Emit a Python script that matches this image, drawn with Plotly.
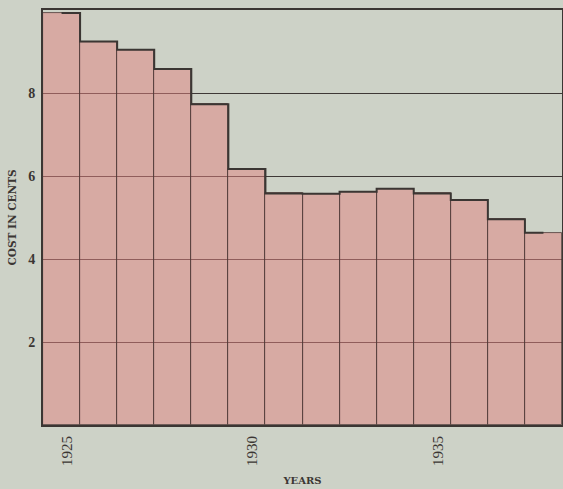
import plotly.graph_objects as go

years = [1925, 1926, 1927, 1928, 1929, 1930, 1931, 1932, 1933, 1934, 1935, 1936, 1937, 1938]
cost_cents = [9.93, 9.24, 9.04, 8.58, 7.73, 6.17, 5.58, 5.57, 5.62, 5.69, 5.58, 5.42, 4.96, 4.63]
x_tick_vals = [1925, 1930, 1935]
x_tick_text = ["1925", "1930", "1935"]
y_tick_vals = [2, 4, 6, 8]
y_tick_text = ["2", "4", "6", "8"]

BG = "#cdd2c7"
INK = "#3b3633"
FONT = "Liberation Serif"
TITLE_FONT = "DejaVu Serif"
LABEL_NUDGE = 0.15  # printed year labels sit slightly right of bar centres

fig = go.Figure()
fig.add_trace(go.Bar(
    x=years, y=cost_cents,
    marker=dict(color="rgba(226,130,128,0.5)", line=dict(color="#4a3836", width=0.8)),
    width=1.0,
    hoverinfo="x+y",
))
fig.add_trace(go.Scatter(
    x=years, y=cost_cents, mode="lines", line=dict(shape="hvh", color=INK, width=2),
    hoverinfo="skip",
))

fig.update_layout(
    width=563, height=489,
    margin=dict(l=43, r=1, t=10, b=64),
    paper_bgcolor=BG, plot_bgcolor=BG,
    showlegend=False, bargap=0,
    font=dict(family=FONT, color=INK),
)
fig.update_xaxes(
    range=[1924.5, 1938.5], automargin=False,
    tickvals=[v + LABEL_NUDGE for v in x_tick_vals], ticktext=x_tick_text, tickangle=-90,
    tickfont=dict(size=15, family=FONT, color=INK),
    showgrid=False, zeroline=False,
    showline=True, linecolor=INK, linewidth=2, mirror=True,
    ticks="", ticklabelstandoff=3,
    title=dict(text="<b>YEARS</b>", font=dict(size=10, family=TITLE_FONT, color=INK), standoff=12),
)
fig.update_yaxes(
    range=[0, 10], automargin=False,
    tickvals=y_tick_vals, ticktext=[f"<b>{t}</b>" for t in y_tick_text],
    tickfont=dict(size=14, family=FONT, color=INK),
    showgrid=True, gridcolor="#3e3836", gridwidth=1.2, zeroline=False,
    showline=True, linecolor=INK, linewidth=2, mirror=True,
    ticks="", ticklabelstandoff=3,
    title=dict(text="<b>COST IN CENTS</b>", font=dict(size=10.5, family=TITLE_FONT, color=INK), standoff=10),
)

fig.write_html(
    "out.html",
    config={"responsive": False, "displayModeBar": False},
    post_script="document.body.style.margin='0';document.body.style.overflow='hidden';document.body.style.background='%s';" % BG,
)
